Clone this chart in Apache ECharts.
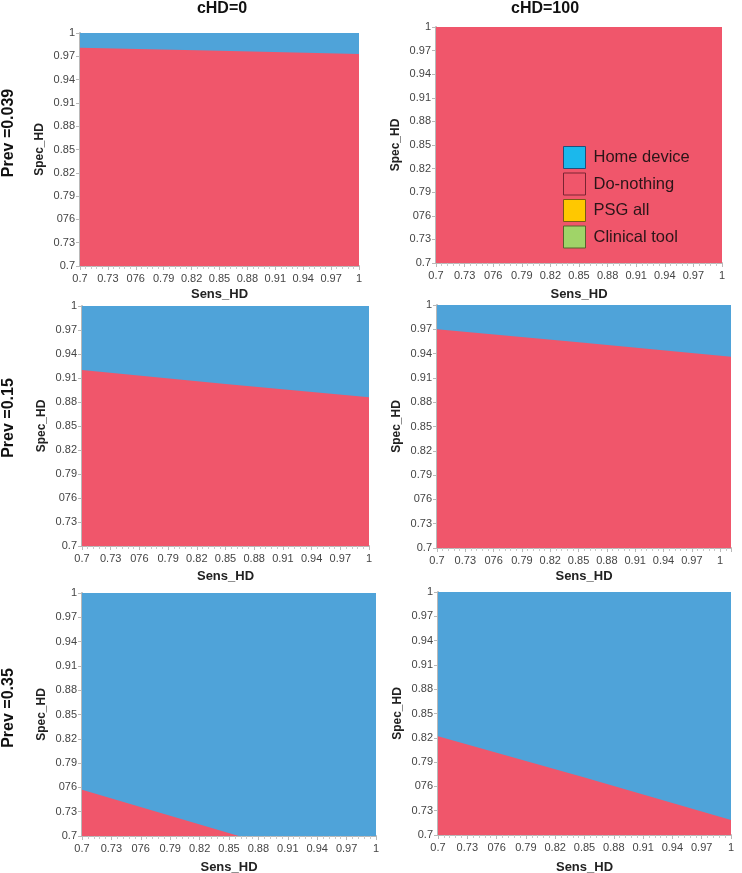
<!DOCTYPE html>
<html><head><meta charset="utf-8">
<script src="https://cdn.jsdelivr.net/npm/echarts@6/dist/echarts.min.js"></script>
<style>html,body{margin:0;padding:0;background:#fff}#c{width:742px;height:873px}</style>
</head><body><div id="c"></div>
<script>
// Tick labels (as printed in the original, including the "076" typo)
const tickLabels = ['0.7','0.73','076','0.79','0.82','0.85','0.88','0.91','0.94','0.97','1'];
const colTitles = ['cHD=0','cHD=100'];
const rowTitles = ['Prev =0.039','Prev =0.15','Prev =0.35'];
const legendNames = ['Home device','Do-nothing','PSG all','Clinical tool'];
// Do-nothing / Home device boundary (Sens_HD, Spec_HD) per panel
const boundaryP1 = [[0.7,0.981],[0.85,0.977],[1,0.973]];
const boundaryP2 = [[0.7,1],[0.85,1],[1,1]];
const boundaryP3 = [[0.7,0.920],[0.85,0.9025],[1,0.886]];
const boundaryP4 = [[0.7,0.970],[0.85,0.954],[1.0115,0.936]];
const boundaryP5 = [[0.7,0.757],[0.86,0.7],[1,0.7]];
const boundaryP6 = [[0.7,0.822],[0.85,0.771],[1,0.7185]];
const xMaxes = [1,1,1,1.0115,1,1];
const boundaries = [boundaryP1,boundaryP2,boundaryP3,boundaryP4,boundaryP5,boundaryP6];

const grids = [
  {left:80, top:33, width:279, height:233},
  {left:436, top:27, width:286, height:236},
  {left:82, top:306, width:287, height:240},
  {left:437, top:305, width:294, height:243},
  {left:82, top:593, width:294, height:243},
  {left:438, top:592, width:293, height:243}
].map(g=>Object.assign(g,{outerBoundsMode:'none',containLabel:false}));
const nameGaps=[22,25,24,22,25,26];
const RED='#f0566b', BLUE='#4fa3d9';
function fmt(v){
  const k=(v-0.7)/0.03; const r=Math.round(k);
  if(Math.abs(k-r)>0.05||r<0||r>10) return '';
  return tickLabels[r];
}
const axisLine={show:true,lineStyle:{color:'#b8b8b8',width:2}};
const xAxes=[],yAxes=[],series=[];
grids.forEach((g,i)=>{
  xAxes.push({type:'value',gridIndex:i,min:0.7,max:xMaxes[i],interval:0.03,
    name:'Sens_HD',nameLocation:'middle',nameGap:nameGaps[i],
    nameTextStyle:{fontWeight:'bold',fontSize:13,color:'#222',fontFamily:'Liberation Sans'},
    axisLine:axisLine,axisTick:{show:true,length:4,lineStyle:{color:'#b8b8b8'}},
    minorTick:{show:true,splitNumber:5,length:3,lineStyle:{color:'#c8c8c8'}},
    splitLine:{show:false},showMaxLabel:xMaxes[i]===1,
    axisLabel:{formatter:fmt,fontSize:11,color:'#444',margin:7,fontFamily:'Liberation Sans'}});
  yAxes.push({type:'value',gridIndex:i,min:0.7,max:1,interval:0.03,
    name:'Spec_HD',nameLocation:'middle',nameGap:34,
    nameTextStyle:{fontWeight:'bold',fontSize:12,color:'#222',fontFamily:'Liberation Sans'},
    axisLine:axisLine,axisTick:{show:true,length:4,lineStyle:{color:'#b8b8b8'}},
    splitLine:{show:false},
    axisLabel:{formatter:fmt,fontSize:11,color:'#444',margin:5,fontFamily:'Liberation Sans'}});
  series.push({name:'Home device',type:'line',xAxisIndex:i,yAxisIndex:i,showSymbol:false,silent:true,
    data:[[0.7,1],[xMaxes[i],1]],lineStyle:{width:0},itemStyle:{color:BLUE},
    areaStyle:{color:BLUE,opacity:1,origin:'start'},z:1});
  series.push({name:'Do-nothing',type:'line',xAxisIndex:i,yAxisIndex:i,showSymbol:false,silent:true,
    data:boundaries[i],lineStyle:{width:0},itemStyle:{color:RED},
    areaStyle:{color:RED,opacity:1,origin:'start'},z:2});
});
series.push({name:'PSG all',type:'line',xAxisIndex:1,yAxisIndex:1,data:[],itemStyle:{color:'#ffc800'}});
series.push({name:'Clinical tool',type:'line',xAxisIndex:1,yAxisIndex:1,data:[],itemStyle:{color:'#a0d468'}});

const graphics=[];
rowTitles.forEach((t,r)=>{
  const cy=[133,418,708][r];
  graphics.push({type:'text',x:9,y:cy,rotation:Math.PI/2,
    style:{text:t,font:'bold 16px "Liberation Sans"',fill:'#111',textAlign:'center',textVerticalAlign:'middle'}});
});
colTitles.forEach((t,c)=>{
  graphics.push({type:'text',x:[222,545][c],y:9,
    style:{text:t,font:'bold 16px "Liberation Sans"',fill:'#111',textAlign:'center',textVerticalAlign:'middle'}});
});

const chart=echarts.init(document.getElementById('c'),null,{renderer:'canvas'});
chart.setOption({
  animation:false,
  backgroundColor:'#fff',
  grid:grids,xAxis:xAxes,yAxis:yAxes,series:series,graphic:graphics,
  legend:{show:true,orient:'vertical',left:563,top:146,padding:0,itemWidth:22,itemHeight:22,itemGap:3.5,
    icon:'rect',selectedMode:false,
    textStyle:{fontSize:16.5,lineHeight:22,color:'#2a1518',fontFamily:'Liberation Sans',padding:[0,0,0,3]},
    data:[
      {name:legendNames[0],itemStyle:{color:'#1bb8ec',borderColor:'#234f7a',borderWidth:1}},
      {name:legendNames[1],itemStyle:{color:RED,borderColor:'#7a2432',borderWidth:1}},
      {name:legendNames[2],itemStyle:{color:'#ffc800',borderColor:'#7a5a14',borderWidth:1}},
      {name:legendNames[3],itemStyle:{color:'#a0d468',borderColor:'#56642c',borderWidth:1}}
    ]}
});
</script></body></html>
